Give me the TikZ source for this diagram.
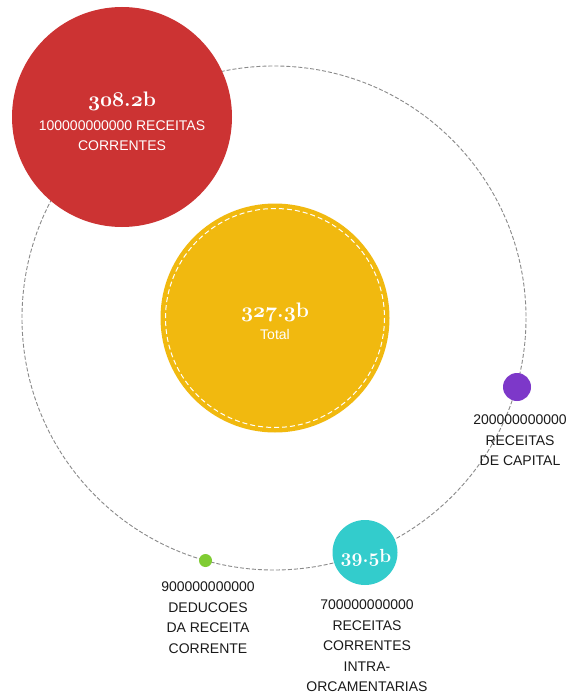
\documentclass[tikz,border=0pt]{standalone}
\usepackage{fix-cm}
\usepackage{fontspec}
\setmainfont{Liberation Sans}
\newcommand\osnum[1]{{\usefont{OML}{cmm}{b}{it}#1}}
\newcommand\srm[1]{{\usefont{TU}{lmr}{bx}{n}#1}}
\newcommand\bval[2]{\osnum{#1}\srm{.}\osnum{#2}\srm{b}}
\definecolor{redc}{HTML}{CC3333}
\definecolor{yellowc}{HTML}{F1B90F}
\definecolor{purplec}{HTML}{7D38C9}
\definecolor{greenc}{HTML}{80CC33}
\definecolor{tealc}{HTML}{33CCCC}
\definecolor{orbitc}{HTML}{8A8A8A}
\definecolor{labelc}{HTML}{1A1A1A}
\begin{document}
\begin{tikzpicture}[x=1pt,y=-1pt,
  orbit/.style={draw=orbitc, dash pattern=on 4pt off 2pt, line width=0.9pt},
  bubble/.style={circle, inner sep=0pt, draw=none},
  numtxt/.style={text=white, font=\fontsize{21}{21}\selectfont, anchor=base, inner sep=0pt},
  captxt/.style={text=white, font=\fontsize{14}{20}\selectfont, anchor=base, inner sep=0pt},
  lbl/.style={text=labelc, font=\fontsize{14}{20.5}\selectfont, align=center, anchor=north, inner sep=0pt}]
\useasboundingbox (0,0) rectangle (570,695);
\fill[white] (0,0) rectangle (570,695);
\coordinate (ctr) at (274,318);
\draw[orbit] (ctr) circle[radius=252];
% total
\node[bubble, fill=yellowc, minimum size=229pt] (total) at (275,318) {};
\draw[white, dash pattern=on 5pt off 3pt, line width=1pt] (total.center) circle[radius=109.5];
\node[numtxt] (totalnum) at (275,317) {\bval{327}{3}};
\node[captxt] (totalcap) at (275,339) {Total};
% receitas correntes
\node[bubble, fill=redc, minimum size=220pt] (red) at (122,117) {};
\node[numtxt] (rednum) at (122,107) {\bval{308}{2}};
\node[captxt] (redcap1) at (122,131) {100000000000 RECEITAS};
\node[captxt] (redcap2) at (122,151) {CORRENTES};
% receitas de capital
\node[bubble, fill=purplec, minimum size=28pt] (purple) at (517,387) {};
\node[lbl] (purplelbl) at (520,415) {200000000000\\RECEITAS\\DE CAPITAL};
% deducoes
\node[bubble, fill=greenc, minimum size=13pt] (green) at (205.5,560.5) {};
\node[lbl] (greenlbl) at (208,582) {900000000000\\DEDUCOES\\DA RECEITA\\CORRENTE};
% intra-orcamentarias
\node[bubble, fill=tealc, minimum size=65pt] (teal) at (365,552.5) {};
\node[numtxt, font=\fontsize{19}{19}\selectfont] (tealnum) at (366,562) {\bval{39}{5}};
\node[lbl] (teallbl) at (367,600) {700000000000\\RECEITAS\\CORRENTES\\INTRA-\\ORCAMENTARIAS};
\end{tikzpicture}
\end{document}
